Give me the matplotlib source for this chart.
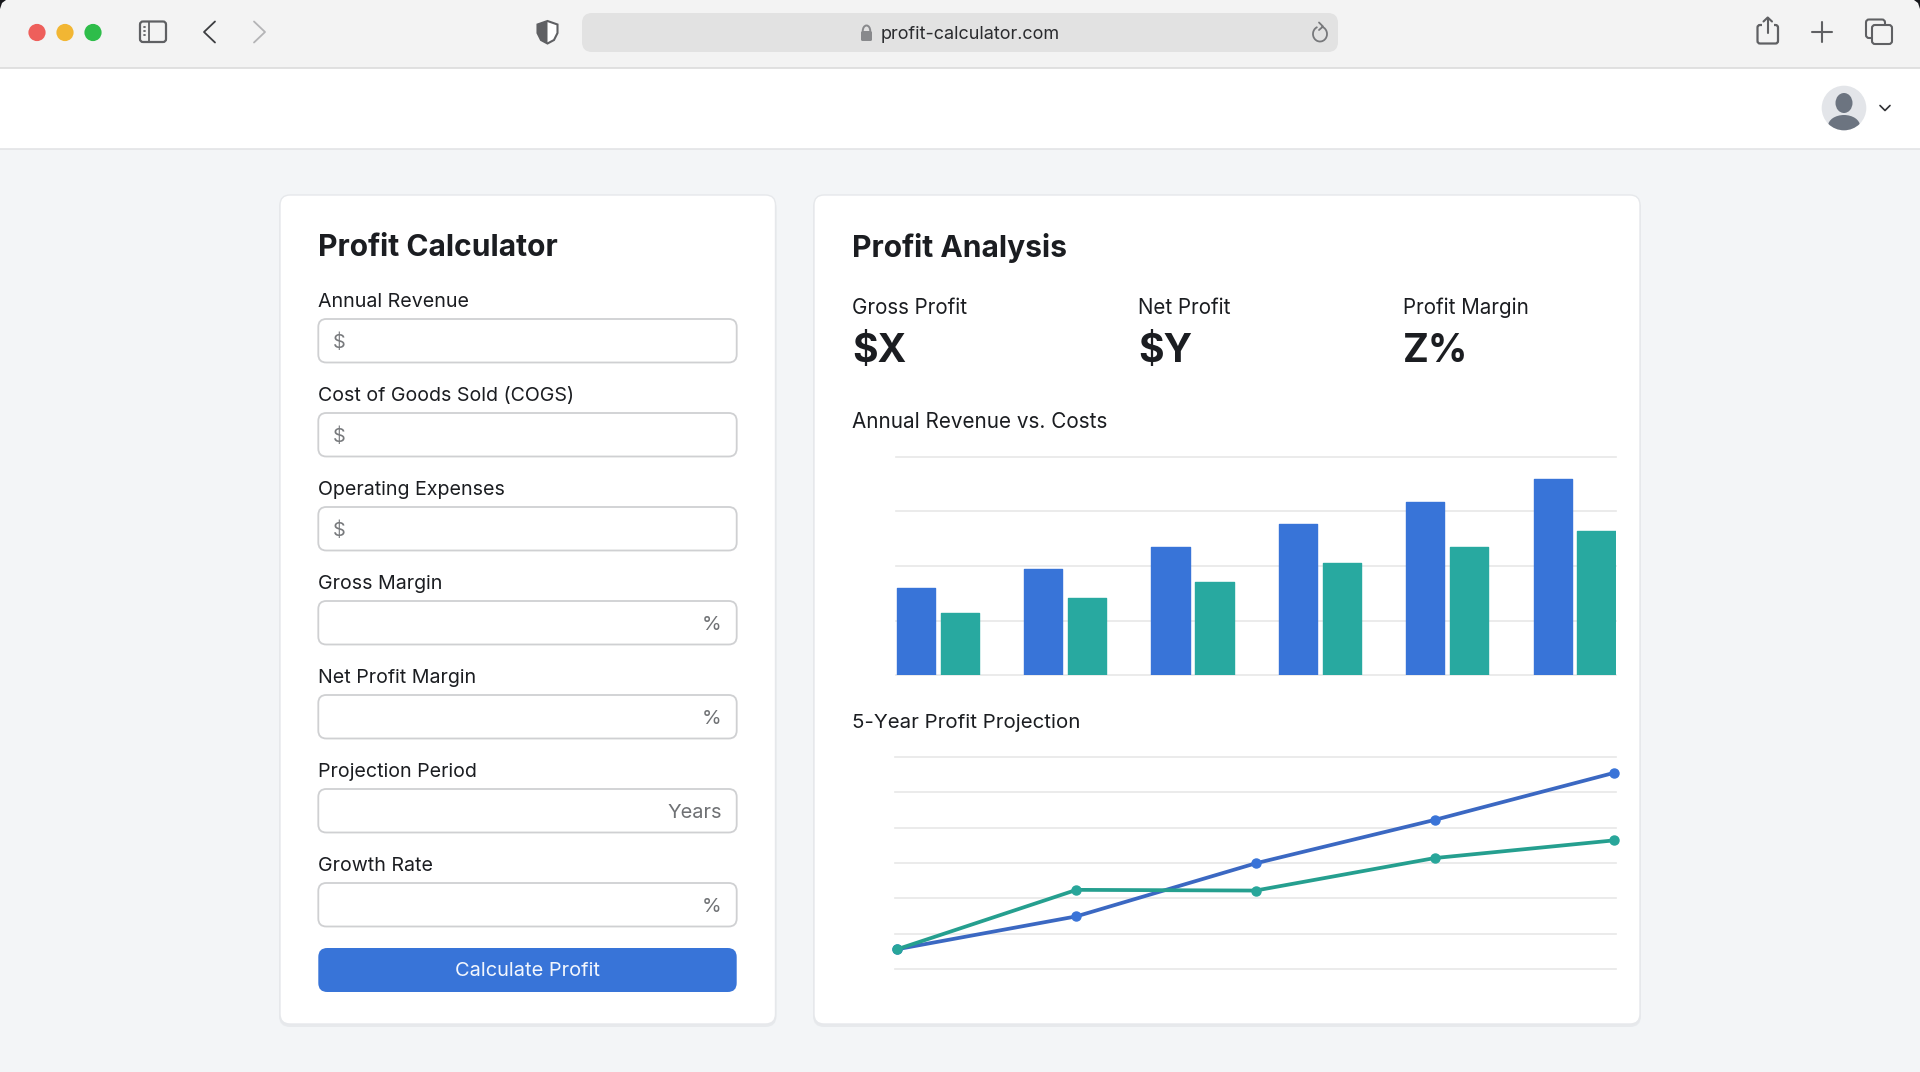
import numpy as np
import matplotlib
matplotlib.use("Agg")
import matplotlib.pyplot as plt
from matplotlib.patches import FancyBboxPatch, Circle, Ellipse, Polygon, Rectangle, Arc

plt.rcParams['font.family'] = ['Inter', 'DejaVu Sans']

# Chart data
bar_categories = ["Y1", "Y2", "Y3", "Y4", "Y5", "Y6"]
revenue = [40.1, 48.5, 58.8, 69.2, 79.4, 89.8]
costs = [28.4, 35.2, 42.8, 51.4, 58.8, 66.0]

line_years = [0, 1, 2, 3, 4]
profit_a = [5.6, 14.9, 29.9, 42.2, 55.5]
profit_b = [5.6, 22.4, 22.2, 31.4, 36.4]

# Form text
form_labels = ["Annual Revenue", "Cost of Goods Sold (COGS)", "Operating Expenses",
               "Gross Margin", "Net Profit Margin", "Projection Period", "Growth Rate"]
form_units = ["$", "$", "$", "%", "%", "Years", "%"]
stat_labels = ["Gross Profit", "Net Profit", "Profit Margin"]
stat_values = ["$X", "$Y", "Z%"]

W, H = 1920, 1072
DARK = "#1b1d21"
BLUE = "#3874d8"
TEAL = "#28a9a0"
GRID = "#e8e8e8"
ICON = "#5f6063"


def px(size):
    return size * 0.72


def rbox(ax, x0, y0, x1, y1, r, fc, ec="none", lw=0, z=2, alpha=None):
    box = FancyBboxPatch((x0 + r, y0 + r), x1 - x0 - 2 * r, y1 - y0 - 2 * r,
                         boxstyle=f"round,pad={r},rounding_size={r}",
                         fc=fc, ec=ec, lw=lw, zorder=z, alpha=alpha)
    ax.add_patch(box)


def stroke(ax, xs, ys, color=ICON, lw=1.5, z=5):
    ax.plot(xs, ys, color=color, lw=lw, zorder=z, solid_capstyle="round", solid_joinstyle="round")


def chart_axes(x0, y0, x1, y1):
    a = fig.add_axes([x0 / W, 1 - y1 / H, (x1 - x0) / W, (y1 - y0) / H], zorder=2)
    a.patch.set_alpha(0)
    for s in a.spines.values():
        s.set_visible(False)
    a.tick_params(length=0, labelbottom=False, labelleft=False)
    a.set_axisbelow(True)
    a.yaxis.grid(True, color=GRID, lw=1.2)
    a.xaxis.grid(False)
    return a


fig = plt.figure(figsize=(W / 100, H / 100), dpi=100, facecolor="#f3f5f7")
bg = fig.add_axes([0, 0, 1, 1], zorder=0)
bg.set_xlim(0, W)
bg.set_ylim(H, 0)
bg.axis("off")

# Browser toolbar
bg.add_patch(Rectangle((0, 0), W, 68, fc="#f3f3f3", ec="none", zorder=1))
bg.add_patch(Rectangle((0, 68), W, 81, fc="#ffffff", ec="none", zorder=1))
bg.plot([0, W], [68, 68], color="#dcdcdc", lw=1.2, zorder=2)
bg.plot([0, W], [149, 149], color="#e3e4e6", lw=1.2, zorder=2)
bg.add_patch(Polygon([(0, 0), (6, 0), (2, 3), (0, 9)], fc="#15161a", ec="none", zorder=3))
bg.add_patch(Polygon([(W, 0), (W - 6, 0), (W - 2, 3), (W, 9)], fc="#15161a", ec="none", zorder=3))

for cx, col in zip([37, 65, 93], ["#ee5f5b", "#f2b633", "#2ebd4a"]):
    bg.add_patch(Circle((cx, 32.5), 8.6, fc=col, ec="none", zorder=4))

# sidebar icon
rbox(bg, 140, 21.5, 166, 42, 3, "none", ec=ICON, lw=1.6, z=5)
stroke(bg, [149, 149], [21.5, 42], lw=1.3)
for yy in [27, 31, 35]:
    stroke(bg, [144, 145], [yy, yy], lw=1.3)
# back / forward
stroke(bg, [215, 204, 215], [21.5, 32, 42.5], color="#3c3d40", lw=1.3)
stroke(bg, [254, 265, 254], [21.5, 32, 42.5], color="#b4b4b6", lw=1.3)
# shield
shield = [(547.5, 21), (557.5, 24.5), (557.5, 33), (554, 40), (547.5, 43.5), (541, 40), (537.5, 33), (537.5, 24.5)]
bg.add_patch(Polygon(shield, fc="#ffffff", ec=ICON, lw=1.5, zorder=5))
bg.add_patch(Polygon(shield[:1] + shield[4:], fc=ICON, ec="none", zorder=6))

# address bar
rbox(bg, 582, 13, 1338, 52, 10, "#e2e2e2", z=3)
rbox(bg, 861, 31, 872, 41, 1.5, "#88898c", z=5)
bg.add_patch(Arc((866.5, 31), 7.5, 11, theta1=180, theta2=360, ec="#88898c", lw=1.4, zorder=5))
bg.text(970.5, 34.5, "profit-calculator.com", fontsize=px(18), color="#2a2b2e", ha="center", va="center", zorder=5)
bg.add_patch(Arc((1320, 34), 14, 15, theta1=-80, theta2=250, ec="#77787b", lw=1.3, zorder=5))
stroke(bg, [1319, 1323, 1319], [22.5, 26.5, 30], color="#77787b", lw=1.3)

# share / plus / tabs
rbox(bg, 1757.5, 25, 1778, 43.5, 2.5, "none", ec=ICON, lw=1.6, z=5)
bg.add_patch(Rectangle((1762, 20), 11.5, 12, fc="#f3f3f3", ec="none", zorder=6))
stroke(bg, [1767.7, 1767.7], [17.5, 33], z=7)
stroke(bg, [1763.5, 1767.7, 1772], [21.5, 17.5, 21.5], z=7)
stroke(bg, [1822, 1822], [22, 42])
stroke(bg, [1812, 1832], [32, 32])
rbox(bg, 1866, 19.5, 1885, 38, 3, "none", ec=ICON, lw=1.5, z=5)
rbox(bg, 1872, 25, 1892, 44, 3, "#f3f3f3", ec=ICON, lw=1.5, z=6)

# avatar
avatar = Circle((1844, 108), 22.3, fc="#e3e5e9", ec="none", zorder=3)
bg.add_patch(avatar)
bg.add_patch(Ellipse((1844, 103), 17, 20, fc="#6c7480", ec="none", zorder=4))
body = Ellipse((1844, 126), 32, 22, fc="#6c7480", ec="none", zorder=4)
bg.add_patch(body)
body.set_clip_path(avatar)
stroke(bg, [1880, 1885, 1890], [105.5, 110.5, 105.5], color="#303134", lw=1.2)

# Cards
for x0, x1 in [(280, 775.5), (814, 1640)]:
    rbox(bg, x0 - 1, 195 + 2, x1 + 1, 1024 + 3, 11, "#dfe2e6", z=2, alpha=0.6)
    rbox(bg, x0, 195, x1, 1024, 10, "#ffffff", ec="#e6e8eb", lw=1.0, z=3)

# Left form
bg.text(318, 248.5, "Profit Calculator", fontsize=px(30), fontweight="bold", color=DARK, va="center", zorder=5)
for i, (lab, unit) in enumerate(zip(form_labels, form_units)):
    top = 319 + 94 * i
    bg.text(317.6, top - 17, lab, fontsize=px(19.6), color=DARK, va="center", zorder=5)
    rbox(bg, 318.3, top, 736.7, top + 43.5, 8, "#ffffff", ec="#cfd0d2", lw=1.3, z=4)
    if unit == "$":
        bg.text(333, top + 23.5, unit, fontsize=px(20), color="#77797c", va="center", zorder=5)
    else:
        bg.text(721.5, top + 23.5, unit, fontsize=px(20), color="#6f7174", va="center", ha="right", zorder=5)

rbox(bg, 318.3, 948, 736.7, 992, 9, BLUE, z=4)
bg.text(527.5, 971.5, "Calculate Profit", fontsize=px(20), color="#f2f6fd", ha="center", va="center", zorder=5)

# Right panel headings
bg.text(852, 248, "Profit Analysis", fontsize=px(30), fontweight="bold", color=DARK, va="center", zorder=5)
for sx, lab, val in zip([852, 1138, 1403], stat_labels, stat_values):
    bg.text(sx, 308, lab, fontsize=px(20.6), color=DARK, va="center", zorder=5)
    bg.text(sx, 351, val, fontsize=px(39), fontweight="bold", color=DARK, va="center", zorder=5)
bg.text(852, 422.5, "Annual Revenue vs. Costs", fontsize=px(20.7), color=DARK, va="center", zorder=5)
bg.text(852, 723.5, "5-Year Profit Projection", fontsize=px(20.5), color=DARK, va="center", zorder=5)

# Bar chart
ax1 = chart_axes(896.3, 456.7, 1616, 675.3)
x = np.arange(len(bar_categories))
bars_a = ax1.bar(x - 0.1725, revenue, width=0.30, color=BLUE, edgecolor=BLUE, linewidth=1.0)
bars_b = ax1.bar(x + 0.1725, costs, width=0.30, color=TEAL, edgecolor=TEAL, linewidth=1.0)
for b in list(bars_a) + list(bars_b):
    b.set_joinstyle("round")
ax1.set_xlim(-0.325, 5.325)
ax1.set_ylim(0, 100)
ax1.set_yticks([0, 25, 50, 75, 100])
ax1.set_xticks(x)
for g in ax1.get_ygridlines():
    g.set_clip_on(False)

# Line chart
ax2 = chart_axes(894.6, 757, 1616, 969)
ax2.plot(line_years, profit_a, color="#3b68c2", lw=2.7, marker="o", ms=6.5, mfc="#3a74d8", mec="#3a74d8", clip_on=False, zorder=3)
ax2.plot(line_years, profit_b, color="#259f8f", lw=2.7, marker="o", ms=6.5, mfc="#28a69a", mec="#28a69a", clip_on=False, zorder=4)
ax2.set_xlim(-0.015, 4.012)
ax2.set_ylim(0, 60)
ax2.set_yticks([0, 10, 20, 30, 40, 50, 60])
ax2.set_xticks(line_years)
for g in ax2.get_ygridlines():
    g.set_clip_on(False)

fig.savefig("out.png", dpi=100, facecolor=fig.get_facecolor())
